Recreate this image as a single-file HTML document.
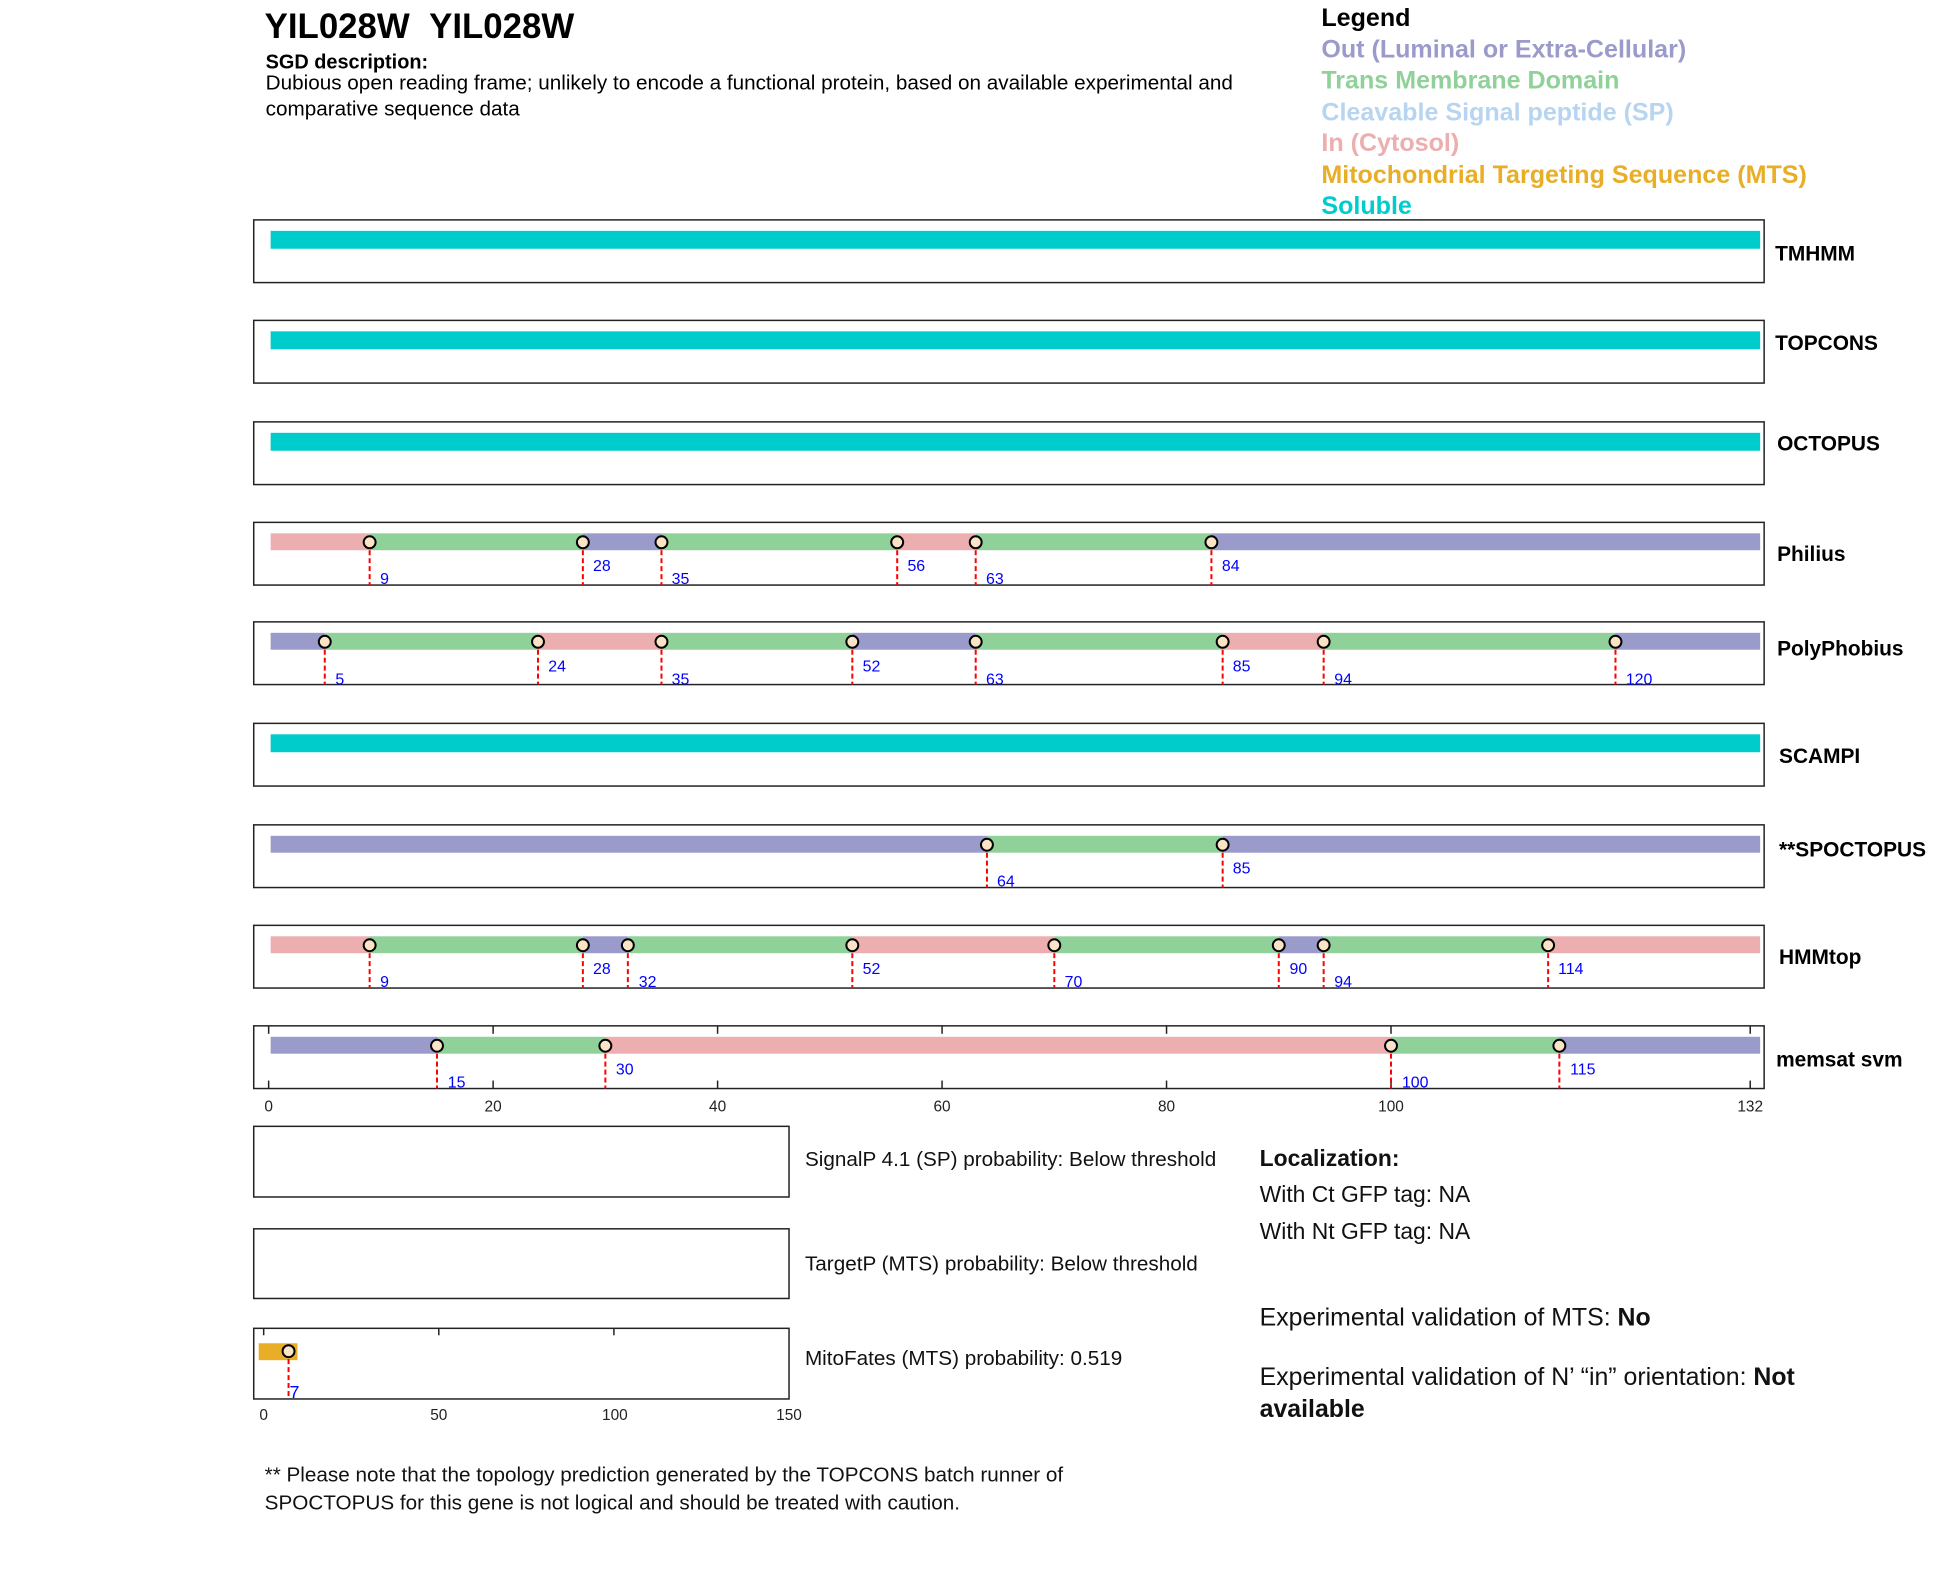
<!DOCTYPE html>
<html><head><meta charset="utf-8"><style>
html,body{margin:0;padding:0;background:#fff}
svg{display:block;font-family:"Liberation Sans",Arial,sans-serif}
</style></head><body>
<svg width="1950" height="1573" viewBox="0 0 1950 1573" xmlns="http://www.w3.org/2000/svg">
<defs>
<g id="m"><line x1="0" y1="0" x2="0" y2="43" stroke="#f00" stroke-width="2" stroke-dasharray="5,3"/><circle r="6" fill="#fbe3c6" stroke="#000" stroke-width="2"/></g>
</defs>
<g transform="scale(0.995)">
<text x="266" y="38" font-size="35" font-weight="bold">YIL028W&#160;&#160;YIL028W</text>
<text x="267" y="69" font-size="20" font-weight="bold">SGD description:</text>
<text x="267" y="90" font-size="20.8">Dubious open reading frame; unlikely to encode a functional protein, based on available experimental and</text>
<text x="267" y="116" font-size="20.8">comparative sequence data</text>

<g font-size="25.2" font-weight="bold">
<text x="1328" y="26" fill="#000">Legend</text>
<text x="1328" y="58" fill="#9b9bcb">Out (Luminal or Extra-Cellular)</text>
<text x="1328" y="89" fill="#90d19a">Trans Membrane Domain</text>
<text x="1328" y="121" fill="#b7d4f0">Cleavable Signal peptide (SP)</text>
<text x="1328" y="152" fill="#ecaeae">In (Cytosol)</text>
<text x="1328" y="184" fill="#e8ae27">Mitochondrial Targeting Sequence (MTS)</text>
<text x="1328" y="215" fill="#00cccc">Soluble</text>
</g>

<g fill="none" stroke="#222" stroke-width="1.5">
<rect x="255" y="221" width="1518" height="63"/>
<rect x="255" y="322" width="1518" height="63"/>
<rect x="255" y="424" width="1518" height="63"/>
<rect x="255" y="525" width="1518" height="63"/>
<rect x="255" y="625" width="1518" height="63"/>
<rect x="255" y="727" width="1518" height="63"/>
<rect x="255" y="829" width="1518" height="63"/>
<rect x="255" y="930" width="1518" height="63"/>
<rect x="255" y="1031" width="1518" height="63"/>
<rect x="255" y="1132" width="538" height="71"/>
<rect x="255" y="1235" width="538" height="70"/>
<rect x="255" y="1335" width="538" height="71"/>
</g>

<g font-size="21" font-weight="bold">
<text x="1784" y="262">TMHMM</text>
<text x="1784" y="352">TOPCONS</text>
<text x="1786" y="453">OCTOPUS</text>
<text x="1786" y="564">Philius</text>
<text x="1786" y="659">PolyPhobius</text>
<text x="1788" y="767">SCAMPI</text>
<text x="1788" y="861">**SPOCTOPUS</text>
<text x="1788" y="969">HMMtop</text>
<text x="1785" y="1072">memsat svm</text>
</g>

<g fill="#00cccc">
<rect x="272" y="232" width="1497" height="18"/>
<rect x="272" y="333" width="1497" height="18"/>
<rect x="272" y="435" width="1497" height="18"/>
<rect x="272" y="738" width="1497" height="18"/>
</g>

<g transform="translate(0,525)">
<rect x="272" y="11" width="99.5" height="17" fill="#ecaeae"/>
<rect x="371.5" y="11" width="214.3" height="17" fill="#90d19a"/>
<rect x="585.8" y="11" width="79" height="17" fill="#9b9bcb"/>
<rect x="664.8" y="11" width="236.9" height="17" fill="#90d19a"/>
<rect x="901.7" y="11" width="78.9" height="17" fill="#ecaeae"/>
<rect x="980.6" y="11" width="236.9" height="17" fill="#90d19a"/>
<rect x="1217.5" y="11" width="551.5" height="17" fill="#9b9bcb"/>
<use href="#m" x="371.5" y="20"/><use href="#m" x="585.8" y="20"/><use href="#m" x="664.8" y="20"/><use href="#m" x="901.7" y="20"/><use href="#m" x="980.6" y="20"/><use href="#m" x="1217.5" y="20"/>
<g fill="#00f" font-size="16">
<text x="382" y="62">9</text><text x="596" y="49">28</text><text x="675" y="62">35</text><text x="912" y="49">56</text><text x="991" y="62">63</text><text x="1228" y="49">84</text>
</g></g>

<g transform="translate(0,625)">
<rect x="272" y="11" width="54.4" height="17" fill="#9b9bcb"/>
<rect x="326.4" y="11" width="214.3" height="17" fill="#90d19a"/>
<rect x="540.7" y="11" width="124.1" height="17" fill="#ecaeae"/>
<rect x="664.8" y="11" width="191.8" height="17" fill="#90d19a"/>
<rect x="856.6" y="11" width="124" height="17" fill="#9b9bcb"/>
<rect x="980.6" y="11" width="248.2" height="17" fill="#90d19a"/>
<rect x="1228.8" y="11" width="101.5" height="17" fill="#ecaeae"/>
<rect x="1330.3" y="11" width="293.3" height="17" fill="#90d19a"/>
<rect x="1623.6" y="11" width="145.4" height="17" fill="#9b9bcb"/>
<use href="#m" x="326.4" y="20"/><use href="#m" x="540.7" y="20"/><use href="#m" x="664.8" y="20"/><use href="#m" x="856.6" y="20"/><use href="#m" x="980.6" y="20"/><use href="#m" x="1228.8" y="20"/><use href="#m" x="1330.3" y="20"/><use href="#m" x="1623.6" y="20"/>
<g fill="#00f" font-size="16">
<text x="337" y="63">5</text><text x="551" y="50">24</text><text x="675" y="63">35</text><text x="867" y="50">52</text><text x="991" y="63">63</text><text x="1239" y="50">85</text><text x="1341" y="63">94</text><text x="1634" y="63">120</text>
</g></g>

<g transform="translate(0,829)">
<rect x="272" y="11" width="719.9" height="17" fill="#9b9bcb"/>
<rect x="991.9" y="11" width="236.9" height="17" fill="#90d19a"/>
<rect x="1228.8" y="11" width="540.2" height="17" fill="#9b9bcb"/>
<use href="#m" x="991.9" y="20"/><use href="#m" x="1228.8" y="20"/>
<g fill="#00f" font-size="16">
<text x="1002" y="62">64</text><text x="1239" y="49">85</text>
</g></g>

<g transform="translate(0,930)">
<rect x="272" y="11" width="99.5" height="17" fill="#ecaeae"/>
<rect x="371.5" y="11" width="214.3" height="17" fill="#90d19a"/>
<rect x="585.8" y="11" width="45.2" height="17" fill="#9b9bcb"/>
<rect x="631" y="11" width="225.6" height="17" fill="#90d19a"/>
<rect x="856.6" y="11" width="203" height="17" fill="#ecaeae"/>
<rect x="1059.6" y="11" width="225.6" height="17" fill="#90d19a"/>
<rect x="1285.2" y="11" width="45.1" height="17" fill="#9b9bcb"/>
<rect x="1330.3" y="11" width="225.6" height="17" fill="#90d19a"/>
<rect x="1555.9" y="11" width="213.1" height="17" fill="#ecaeae"/>
<use href="#m" x="371.5" y="20"/><use href="#m" x="585.8" y="20"/><use href="#m" x="631" y="20"/><use href="#m" x="856.6" y="20"/><use href="#m" x="1059.6" y="20"/><use href="#m" x="1285.2" y="20"/><use href="#m" x="1330.3" y="20"/><use href="#m" x="1555.9" y="20"/>
<g fill="#00f" font-size="16">
<text x="382" y="62">9</text><text x="596" y="49">28</text><text x="642" y="62">32</text><text x="867" y="49">52</text><text x="1070" y="62">70</text><text x="1296" y="49">90</text><text x="1341" y="62">94</text><text x="1566" y="49">114</text>
</g></g>

<g transform="translate(0,1031)">
<g stroke="#222" stroke-width="1.5">
<line x1="270" y1="0" x2="270" y2="8"/><line x1="270" y1="55" x2="270" y2="63"/>
<line x1="495.6" y1="0" x2="495.6" y2="8"/><line x1="495.6" y1="55" x2="495.6" y2="63"/>
<line x1="721.2" y1="0" x2="721.2" y2="8"/><line x1="721.2" y1="55" x2="721.2" y2="63"/>
<line x1="946.8" y1="0" x2="946.8" y2="8"/><line x1="946.8" y1="55" x2="946.8" y2="63"/>
<line x1="1172.4" y1="0" x2="1172.4" y2="8"/><line x1="1172.4" y1="55" x2="1172.4" y2="63"/>
<line x1="1398" y1="0" x2="1398" y2="8"/><line x1="1398" y1="55" x2="1398" y2="63"/>
<line x1="1759" y1="0" x2="1759" y2="8"/><line x1="1759" y1="55" x2="1759" y2="63"/>
</g>
<rect x="272" y="11" width="167.2" height="17" fill="#9b9bcb"/>
<rect x="439.2" y="11" width="169.2" height="17" fill="#90d19a"/>
<rect x="608.4" y="11" width="789.6" height="17" fill="#ecaeae"/>
<rect x="1398" y="11" width="169.2" height="17" fill="#90d19a"/>
<rect x="1567.2" y="11" width="201.8" height="17" fill="#9b9bcb"/>
<use href="#m" x="439.2" y="20"/><use href="#m" x="608.4" y="20"/><use href="#m" x="1398" y="20"/><use href="#m" x="1567.2" y="20"/>
<g fill="#00f" font-size="16">
<text x="450" y="62">15</text><text x="619" y="49">30</text><text x="1409" y="62">100</text><text x="1578" y="49">115</text>
</g></g>
<g font-size="15.5" fill="#222" text-anchor="middle">
<text x="270" y="1117">0</text><text x="495.6" y="1117">20</text><text x="721.2" y="1117">40</text><text x="946.8" y="1117">60</text><text x="1172.4" y="1117">80</text><text x="1398" y="1117">100</text><text x="1759" y="1117">132</text>
</g>

<g stroke="#222" stroke-width="1.5">
<line x1="265" y1="1335" x2="265" y2="1342"/><line x1="441" y1="1335" x2="441" y2="1342"/><line x1="617" y1="1335" x2="617" y2="1342"/>
</g>
<rect x="260" y="1350" width="39" height="17" fill="#e8ae27"/>
<line x1="290" y1="1358" x2="290" y2="1406" stroke="#f00" stroke-width="2" stroke-dasharray="5,3"/>
<circle cx="290" cy="1358" r="6" fill="#fbe3c6" stroke="#000" stroke-width="2"/>
<text x="291" y="1405" fill="#00f" font-size="18">7</text>
<g font-size="15.5" fill="#222" text-anchor="middle">
<text x="265" y="1427">0</text><text x="441" y="1427">50</text><text x="618" y="1427">100</text><text x="793" y="1427">150</text>
</g>

<g font-size="20.8" fill="#111">
<text x="809" y="1172">SignalP 4.1 (SP) probability: Below threshold</text>
<text x="809" y="1277">TargetP (MTS) probability: Below threshold</text>
<text x="809" y="1372">MitoFates (MTS) probability: 0.519</text>
<text x="1266" y="1172" font-weight="bold" font-size="23">Localization:</text>
<text x="1266" y="1208" font-size="23">With Ct GFP tag: NA</text>
<text x="1266" y="1245" font-size="23">With Nt GFP tag: NA</text>
<text x="1266" y="1332" font-size="25">Experimental validation of MTS: <tspan font-weight="bold">No</tspan></text>
<text x="1266" y="1392" font-size="25">Experimental validation of N’ “in” orientation: <tspan font-weight="bold">Not</tspan></text>
<text x="1266" y="1424" font-size="25" font-weight="bold">available</text>
<text x="266" y="1489">** Please note that the topology prediction generated by the TOPCONS batch runner of</text>
<text x="266" y="1517">SPOCTOPUS for this gene is not logical and should be treated with caution.</text>
</g>
</g>
</svg>
</body></html>
